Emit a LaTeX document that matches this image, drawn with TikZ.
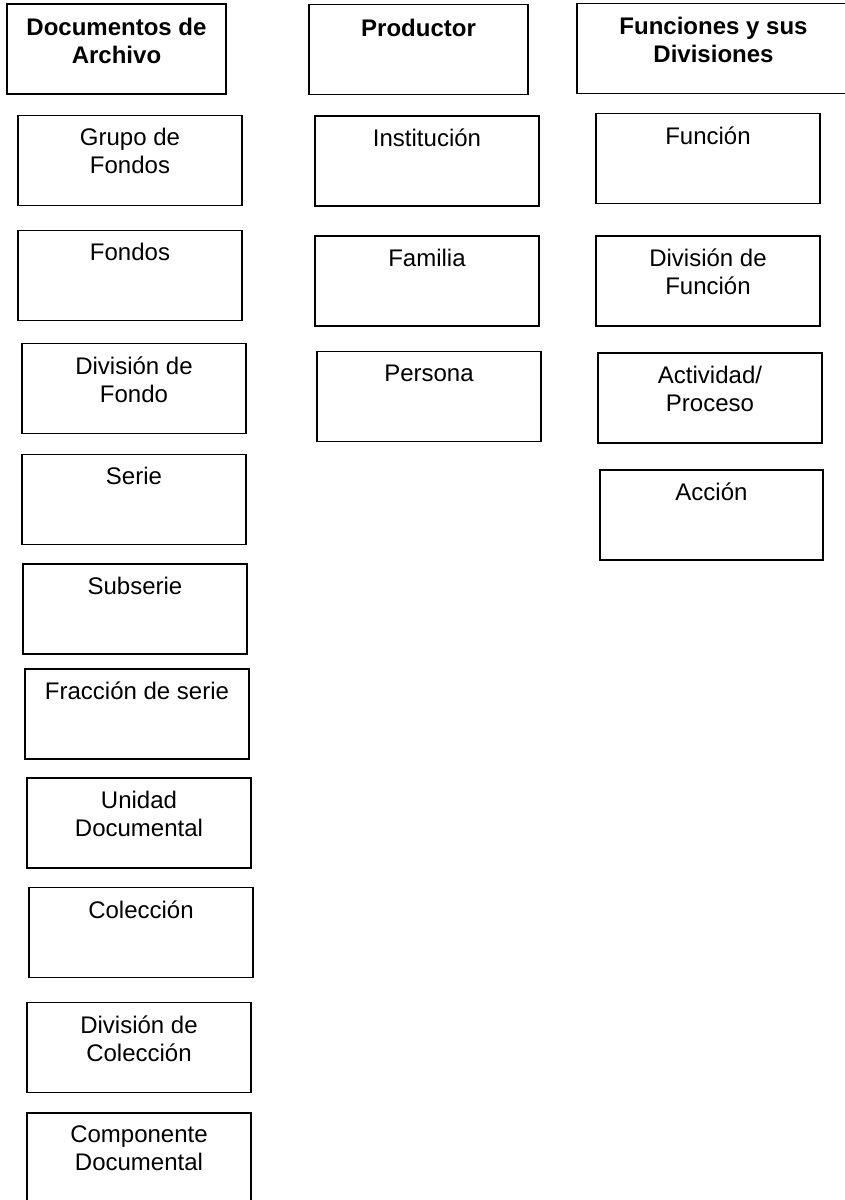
\documentclass[tikz,border=0pt]{standalone}
\usepackage{fontspec}
\setmainfont{Liberation Sans}
\usepackage{tikz}

\begin{document}
\begin{tikzpicture}[x=1pt,y=-1pt,
	caja/.style={draw,line width=1.2pt,inner sep=0pt,minimum width=224pt,minimum height=90pt},
	texto/.style={anchor=north,inner sep=0pt,align=center,font=\fontsize{24}{28}\selectfont},
	cabeza/.style={texto,font=\fontsize{24}{28}\selectfont\bfseries}]
\useasboundingbox (0,0) rectangle (844,1200);
\begin{scope}
		% Documentos de Archivo
		\node[caja,minimum width=219pt] (arch) at (116.5,49) {};
		\node[caja] (gf) at (130,160.5) {};
		\node[caja] (fon) at (130,275.5) {};
		\node[caja] (divf) at (134,388.5) {};
		\node[caja] (ser) at (134,499.5) {};
		\node[caja] (sub) at (135,609) {};
		\node[caja] (frac) at (137,714) {};
		\node[caja] (ud) at (139,823) {};
		\node[caja] (col) at (141,932.5) {};
		\node[caja] (divc) at (139,1047.5) {};
		\node[caja,minimum height=92pt] (comp) at (139,1159) {};
		\node[cabeza] (arch-t) at ([yshift=-14.5pt]arch.north) {Documentos de\\Archivo};
		\node[texto] (gf-t) at ([yshift=-13.5pt]gf.north) {Grupo de\\Fondos};
		\node[texto] (fon-t) at ([yshift=-13.5pt]fon.north) {Fondos};
		\node[texto] (divf-t) at ([yshift=-13.5pt]divf.north) {División de\\Fondo};
		\node[texto] (ser-t) at ([yshift=-13.5pt]ser.north) {Serie};
		\node[texto] (sub-t) at ([yshift=-13.5pt]sub.north) {Subserie};
		\node[texto] (frac-t) at ([yshift=-13.5pt]frac.north) {Fracción de serie};
		\node[texto] (ud-t) at ([yshift=-13.5pt]ud.north) {Unidad\\Documental};
		\node[texto] (col-t) at ([yshift=-13.5pt]col.north) {Colección};
		\node[texto] (divc-t) at ([yshift=-13.5pt]divc.north) {División de\\Colección};
		\node[texto] (comp-t) at ([yshift=-13.5pt]comp.north) {Componente\\Documental};
\end{scope}
\begin{scope}
		% Productor
		\node[caja,minimum width=219pt] (prod) at (418.5,49.5) {};
		\node[caja] (inst) at (427,161) {};
		\node[caja] (fam) at (427,281) {};
		\node[caja] (pers) at (429,396.5) {};
		\node[cabeza] (prod-t) at ([yshift=-15.5pt]prod.north) {Productor};
		\node[texto] (inst-t) at ([yshift=-13.5pt]inst.north) {Institución};
		\node[texto] (fam-t) at ([yshift=-13.5pt]fam.north) {Familia};
		\node[texto] (pers-t) at ([yshift=-13.5pt]pers.north) {Persona};
\end{scope}
\begin{scope}
		% Funciones y sus Divisiones
		\node[caja,minimum width=273pt] (func) at (713.5,48.5) {};
		\node[caja] (fun) at (708,158.5) {};
		\node[caja] (divfun) at (708,281) {};
		\node[caja] (act) at (710,398) {};
		\node[caja,minimum width=223pt] (acc) at (711.5,515) {};
		\node[cabeza] (func-t) at ([yshift=-14.5pt]func.north) {Funciones y sus\\Divisiones};
		\node[texto] (fun-t) at ([yshift=-13.5pt]fun.north) {Función};
		\node[texto] (divfun-t) at ([yshift=-13.5pt]divfun.north) {División de\\Función};
		\node[texto] (act-t) at ([yshift=-13.5pt]act.north) {Actividad/\\Proceso};
		\node[texto] (acc-t) at ([yshift=-13.5pt]acc.north) {Acción};
\end{scope}
\end{tikzpicture}
\end{document}
